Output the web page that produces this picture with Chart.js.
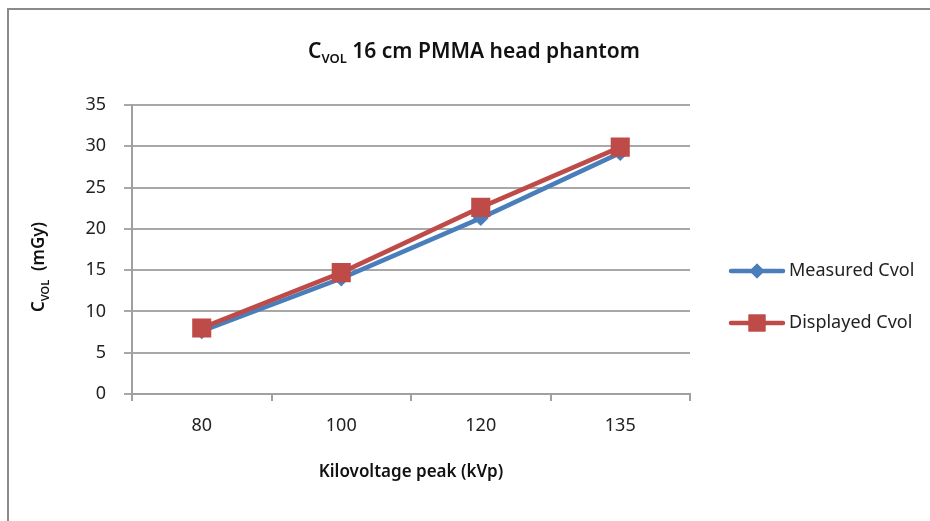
<!DOCTYPE html>
<html>
<head>
<meta charset="utf-8">
<script src="https://cdn.jsdelivr.net/npm/chart.js@4.4.1/dist/chart.umd.min.js"></script>
<style>
  html, body { margin: 0; padding: 0; background: #fff; }
  #wrap { position: relative; width: 930px; height: 521px; overflow: hidden; }
  #frame { position: absolute; left: 7px; top: 8px; width: 940px; height: 530px;
           border-top: 2px solid #8a8a8a; border-left: 2px solid #8a8a8a; box-sizing: border-box; }
  canvas { position: absolute; left: 0; top: 0; }
</style>
</head>
<body>
<div id="wrap">
  <div id="frame"></div>
  <canvas id="myChart" width="930" height="521"></canvas>
</div>
<script>
const categories = ['80', '100', '120', '135'];
const measured = [7.6, 14.0, 21.3, 29.2];
const displayed = [8.0, 14.7, 22.6, 29.9];
const yTicks = [0, 5, 10, 15, 20, 25, 30, 35];

const BLUE = '#4a7ebb';
const RED = '#be4b48';
const FONT = "'Noto Sans', 'Open Sans', sans-serif";

// titles with subscripts + legend on the right
const textPlugin = {
    id: 'textPlugin',
    afterDraw(chart) {
        const c = chart.ctx;
        const area = chart.chartArea;
        c.save();
        c.fillStyle = '#111';
        c.textBaseline = 'alphabetic';

        // main title
        const big = '600 21px ' + FONT, small = '600 13px ' + FONT;
        const rest = ' 16 cm PMMA head phantom';
        c.font = big; const wC = c.measureText('C').width; const wR = c.measureText(rest).width;
        c.font = small; const wS = c.measureText('VOL').width;
        let x = 474 - (wC + wS + wR) / 2;
        const base = 58;
        c.textAlign = 'left';
        c.font = big; c.fillText('C', x, base); x += wC;
        c.font = small; c.fillText('VOL', x, base + 5); x += wS;
        c.font = big; c.fillText(rest, x, base);

        // y title (rotated)
        c.save();
        c.translate(44, 267);
        c.rotate(-Math.PI / 2);
        const yb = '600 17px ' + FONT, ys = '600 11px ' + FONT;
        const yRest = '  (mGy)';
        c.font = yb; const a = c.measureText('C').width; const b = c.measureText(yRest).width;
        c.font = ys; const s = c.measureText('VOL').width;
        let yx = -(a + s + b) / 2;
        c.font = yb; c.fillText('C', yx, 0); yx += a;
        c.font = ys; c.fillText('VOL', yx, 5); yx += s;
        c.font = yb; c.fillText(yRest, yx, 0);
        c.restore();

        // x title
        c.font = '600 17px ' + FONT;
        c.textAlign = 'center';
        c.textBaseline = 'middle';
        c.fillText('Kilovoltage peak (kVp)', (area.left + area.right) / 2, 472);

        // legend
        const items = [
            { label: 'Measured Cvol', color: BLUE, style: 'rectRot', r: 7.5, y: 271 },
            { label: 'Displayed Cvol', color: RED, style: 'rect', r: 12, y: 323 }
        ];
        items.forEach(it => {
            c.strokeStyle = it.color;
            c.lineWidth = 4.5;
            c.lineCap = 'round';
            c.beginPath(); c.moveTo(731, it.y); c.lineTo(783, it.y); c.stroke();
            c.fillStyle = it.color;
            Chart.helpers.drawPoint(c, { pointStyle: it.style, radius: it.r, borderWidth: 0 }, 757, it.y);
            c.fill();
            c.fillStyle = '#222';
            c.font = '18px ' + FONT;
            c.textAlign = 'left';
            c.textBaseline = 'middle';
            c.fillText(it.label, 789, it.y);
        });
        c.restore();
    }
};

const ctx = document.getElementById('myChart');
const chart = new Chart(ctx, {
    type: 'line',
    data: {
        labels: categories,
        datasets: [{
            label: 'Measured Cvol',
            data: measured,
            borderColor: BLUE,
            backgroundColor: BLUE,
            borderWidth: 4.5,
            pointStyle: 'rectRot',
            pointRadius: 8,
            pointBorderWidth: 0,
            tension: 0,
            order: 2
        }, {
            label: 'Displayed Cvol',
            data: displayed,
            borderColor: RED,
            backgroundColor: RED,
            borderWidth: 4.5,
            pointStyle: 'rect',
            pointRadius: 13.5,
            pointBorderWidth: 0,
            tension: 0,
            order: 1
        }]
    },
    options: {
        responsive: false,
        animation: false,
        layout: { padding: { top: 105, right: 240, left: 0, bottom: 0 } },
        scales: {
            x: {
                offset: true,
                grid: {
                    offset: true,
                    drawOnChartArea: false,
                    drawTicks: true,
                    tickLength: 7,
                    color: '#a0a0a0',
                    lineWidth: 2
                },
                border: { color: '#a0a0a0', width: 2 },
                ticks: { color: '#222', font: { family: FONT, size: 18 }, padding: 14 },
                afterFit(scale) { scale.height = 127; }
            },
            y: {
                min: 0,
                max: 35,
                afterBuildTicks(scale) { scale.ticks = yTicks.map(v => ({ value: v })); },
                grid: { color: '#a8a8a8', lineWidth: 2, tickLength: 8 },
                border: { color: '#a0a0a0', width: 2 },
                ticks: { color: '#222', font: { family: FONT, size: 18 }, padding: 18 },
                afterFit(scale) { scale.width = 132; }
            }
        },
        plugins: {
            legend: { display: false },
            tooltip: { enabled: false }
        }
    },
    plugins: [textPlugin]
});
</script>
</body>
</html>
